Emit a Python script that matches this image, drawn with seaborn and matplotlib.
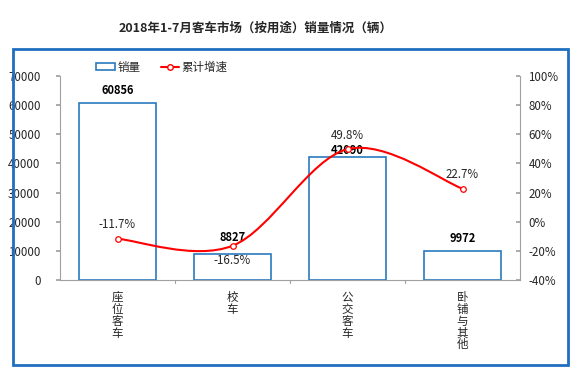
import numpy as np
import pandas as pd
import matplotlib
matplotlib.use("Agg")
import matplotlib.pyplot as plt
import seaborn as sns
from matplotlib.path import Path
from matplotlib.patches import PathPatch, Rectangle
from matplotlib.lines import Line2D

# data
categories = ["座位客车", "校车", "公交客车", "卧铺与其他"]
sales = [60856, 8827, 42090, 9972]
growth = [-11.7, -16.5, 49.8, 22.7]

sns.set_theme(style="white")
plt.rcParams['font.family'] = ['Noto Sans CJK SC', 'DejaVu Sans']
plt.rcParams['axes.unicode_minus'] = False

df = pd.DataFrame({"cat": categories, "sales": sales, "growth": growth})

fig = plt.figure(figsize=(5.8, 3.81), dpi=100)
ax = fig.add_axes([60 / 580, 1 - 280 / 381, 460 / 580, 204 / 381])

sns.barplot(data=df, x="cat", y="sales", ax=ax, width=0.67,
            facecolor="white", edgecolor="#2a7abf", linewidth=1.2)
ax.set_ylim(0, 70000)
ax.set_xlim(-0.5, 3.5)
ax.set_yticks(np.arange(0, 70001, 10000))
ax.set_yticklabels([str(v) for v in range(0, 70001, 10000)], fontsize=8.3)
ax.set_xticks([0, 1, 2, 3])
ax.set_xticklabels(["\n".join(c) for c in categories], fontsize=8.3,
                   linespacing=0.88, va="top")
ax.set_xlabel("")
ax.set_ylabel("")
for s in ["top", "right"]:
    ax.spines[s].set_visible(False)
for s in ["left", "bottom"]:
    ax.spines[s].set_color("#a0a0a0")
    ax.spines[s].set_linewidth(0.8)
ax.tick_params(axis="y", length=3, color="#a0a0a0", pad=11, direction="out", left=True)
ax.tick_params(axis="x", length=0, pad=8)
# category separator ticks
for xv in [0.5, 1.5, 2.5]:
    ax.plot([xv, xv], [0, -1200], color="#a0a0a0", lw=0.8, clip_on=False)

# value labels (offsets in data units, as placed in the reference)
sales_off = [4000, 5800, 2200, 4100]
for i, v in enumerate(sales):
    ax.text(i, v + sales_off[i], str(v), ha="center", va="center", fontsize=8,
            fontweight="bold", color="black", zorder=5)

ax2 = ax.twinx()
ax2.set_ylim(-40, 100)
ax2.set_yticks(np.arange(-40, 101, 20))
ax2.set_yticklabels([f"{v}%" for v in range(-40, 101, 20)], fontsize=8.3)
for s in ["top", "left", "bottom"]:
    ax2.spines[s].set_visible(False)
ax2.spines["right"].set_color("#a0a0a0")
ax2.spines["right"].set_linewidth(0.8)
ax2.tick_params(axis="y", length=3, color="#a0a0a0", direction="in", pad=6, right=True)

# smooth line (Catmull-Rom as bezier segments)
xs = np.arange(len(growth), dtype=float)
ys = np.array(growth, dtype=float)
verts = [(xs[0], ys[0])]
codes = [Path.MOVETO]
n = len(xs)
for i in range(n - 1):
    p0 = (xs[max(i - 1, 0)], ys[max(i - 1, 0)])
    p1 = (xs[i], ys[i])
    p2 = (xs[i + 1], ys[i + 1])
    p3 = (xs[min(i + 2, n - 1)], ys[min(i + 2, n - 1)])
    c1 = (p1[0] + (p2[0] - p0[0]) / 6, p1[1] + (p2[1] - p0[1]) / 6)
    c2 = (p2[0] - (p3[0] - p1[0]) / 6, p2[1] - (p3[1] - p1[1]) / 6)
    verts += [c1, c2, p2]
    codes += [Path.CURVE4] * 3
ax2.add_patch(PathPatch(Path(verts, codes), facecolor="none",
                        edgecolor="#ff0000", lw=1.5, zorder=3))
ax2.plot(xs, ys, ls="none", marker="o", ms=4, mfc="white", mec="#ff0000",
         mew=0.9, zorder=4)

growth_off = [9.6, -10.3, 9.6, 10.0]
for i, v in enumerate(growth):
    ax2.text(i, v + growth_off[i], f"{v}%", ha="center", va="center", fontsize=8.3)

# legend
h1 = Rectangle((0, 0), 1, 1, facecolor="white", edgecolor="#2a7abf", lw=1.2)
h2 = Line2D([0], [0], color="#ff0000", lw=1.5, marker="o", ms=4,
            mfc="white", mec="#ff0000")
fig.legend([h1, h2], ["销量", "累计增速"], loc="center left",
           bbox_to_anchor=(86 / 580, 1 - 67 / 381), ncol=2, frameon=False,
           fontsize=8.3, handlelength=1.6, handletextpad=0.2, columnspacing=1.8,
           handleheight=0.6)

fig.text(256 / 580, 1 - 28 / 381, "2018年1-7月客车市场（按用途）销量情况（辆）",
         ha="center", va="center", fontsize=9, fontweight="bold")

# outer frame
fig.patches.append(Rectangle((13 / 580, 1 - 365 / 381), 555 / 580, 316 / 381,
                             transform=fig.transFigure, fill=False,
                             edgecolor="#1f6fc0", lw=2))

fig.savefig("out.png", dpi=100)
